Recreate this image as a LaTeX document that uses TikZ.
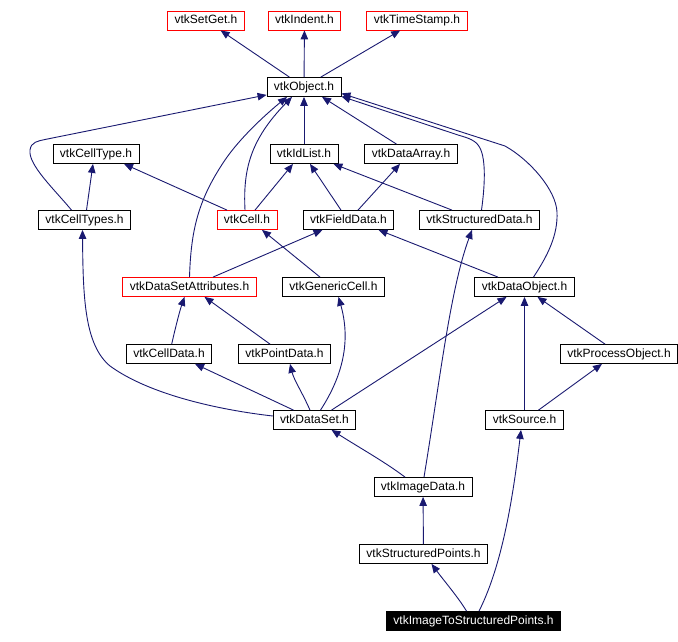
\documentclass[tikz,border=0pt]{standalone}
\usepackage{fontspec}
\setmainfont{Liberation Sans}
\usetikzlibrary{arrows.meta}
\definecolor{edgeblue}{RGB}{25,25,112}

\begin{document}
\begin{tikzpicture}[x=1pt,y=-1pt,
  file/.style={draw,line width=0.8pt,fill=white,minimum height=19pt,inner xsep=7pt,inner ysep=0pt,
    text height=9pt,text depth=2.5pt,font=\fontsize{12}{14}\selectfont},
  extfile/.style={file,draw=red},
  topfile/.style={file,fill=black,text=white},
  inc/.style={edgeblue,line width=0.9pt,-{Triangle[length=9pt,width=7.5pt]}}]
\useasboundingbox (0,0) rectangle (678,642);
\node[extfile] (setget) at (206,20.5) {vtkSetGet.h};
\node[extfile] (indent) at (304.5,20.5) {vtkIndent.h};
\node[extfile] (timestamp) at (417,20.5) {vtkTimeStamp.h};
\node[file] (object) at (304,87) {vtkObject.h};
\node[file] (celltype) at (96,154) {vtkCellType.h};
\node[file] (idlist) at (304,154) {vtkIdList.h};
\node[file] (dataarray) at (411,154) {vtkDataArray.h};
\node[file] (celltypes) at (84.5,220) {vtkCellTypes.h};
\node[extfile] (cell) at (247,220) {vtkCell.h};
\node[file] (fielddata) at (348.5,220) {vtkFieldData.h};
\node[file] (structdata) at (479.5,220) {vtkStructuredData.h};
\node[extfile] (dsattr) at (189.5,287) {vtkDataSetAttributes.h};
\node[file] (genericcell) at (333.5,287) {vtkGenericCell.h};
\node[file] (dataobject) at (524.5,287) {vtkDataObject.h};
\node[file] (celldata) at (169,354) {vtkCellData.h};
\node[file] (pointdata) at (284.5,354) {vtkPointData.h};
\node[file] (procobject) at (619,354) {vtkProcessObject.h};
\node[file] (dataset) at (314.5,420) {vtkDataSet.h};
\node[file] (source) at (524.5,420) {vtkSource.h};
\node[file] (imagedata) at (423,487) {vtkImageData.h};
\node[file] (structpoints) at (423.5,554) {vtkStructuredPoints.h};
\node[topfile] (img2sp) at (473.5,621) {vtkImageToStructuredPoints.h};

\draw[inc] (object) -- (setget);
\draw[inc] (object) -- (indent);
\draw[inc] (object) -- (timestamp);
\draw[inc] ([xshift=-13pt]celltypes.north) .. controls (55,190) and (28,165) .. (30,150)
  .. controls (31,142) and (38,141) .. (45,139.5) -- ([yshift=2pt]object.south west);
\draw[inc] ([xshift=2pt]celltypes.north) -- ([xshift=-3pt]celltype.south);
\draw[inc] ([xshift=-20pt]cell.north) -- ([xshift=28pt]celltype.south);
\draw[inc] ([xshift=-2pt]cell.north) .. controls (243,170) and (250,140) .. ([xshift=-12pt]object.south);
\draw[inc] (dsattr.north) .. controls (191,230) and (198,200) .. (225,160)
  .. controls (240,138) and (265,115) .. ([xshift=-17pt]object.south);
\draw[inc] ([xshift=8pt]cell.north) -- ([xshift=-11pt]idlist.south);
\draw[inc] ([xshift=-7.5pt]fielddata.north) -- ([xshift=6pt]idlist.south);
\draw[inc] ([xshift=-27.5pt]structdata.north) -- ([xshift=-5pt]idlist.south east);
\draw[inc] ([xshift=9.5pt]fielddata.north) -- ([xshift=-11pt]dataarray.south);
\draw[inc] ([xshift=-14.5pt]dataarray.north) -- ([xshift=18pt]object.south);
\draw[inc] (idlist) -- (object);
\draw[inc] ([xshift=2pt]structdata.north) .. controls (485,185) and (486,160) .. (480,148)
  .. controls (476,140) and (468,138) .. (458,135) -- ([yshift=0.5pt]object.south east);
\draw[inc] ([xshift=9pt]dataobject.north) .. controls (548,255) and (558,235) .. (557,212)
  .. controls (556,190) and (530,160) .. (505,146) -- ([yshift=3.5pt]object.south east);
\draw[inc] ([xshift=23.5pt]dsattr.north) -- ([xshift=-26pt]fielddata.south);
\draw[inc] ([xshift=-13.5pt]genericcell.north) -- ([xshift=15pt]cell.south);
\draw[inc] ([xshift=-26.5pt]dataobject.north) -- ([xshift=30pt]fielddata.south);
\draw[inc] ([xshift=1pt]imagedata.north) .. controls (440,380) and (450,290) .. ([xshift=-7.5pt]structdata.south);
\draw[inc] ([xshift=2.7pt]celldata.north) .. controls (176,325) and (180,310) .. ([xshift=-5pt]dsattr.south);
\draw[inc] ([xshift=-14.5pt]pointdata.north) -- ([xshift=15pt]dsattr.south);
\draw[inc] ([yshift=4pt]dataset.west) .. controls (220,410) and (150,395) .. (110,366)
  .. controls (85,345) and (83,300) .. ([xshift=-2pt]celltypes.south);
\draw[inc] ([xshift=-21pt]dataset.north) -- ([xshift=26pt]celldata.south);
\draw[inc] ([xshift=-4.5pt]dataset.north) .. controls (302,392) and (294,380) .. ([xshift=5.5pt]pointdata.south);
\draw[inc] ([xshift=6pt]dataset.north) .. controls (340,380) and (352,345) .. ([xshift=5pt]genericcell.south);
\draw[inc] ([xshift=17pt]dataset.north) -- ([xshift=-18pt]dataobject.south);
\draw[inc] (source) -- (dataobject);
\draw[inc] ([xshift=-14pt]procobject.north) -- ([xshift=13pt]dataobject.south);
\draw[inc] ([xshift=14pt]source.north) -- ([xshift=-17pt]procobject.south);
\draw[inc] ([xshift=-18pt]imagedata.north) .. controls (385,462) and (360,448) .. ([xshift=17pt]dataset.south);
\draw[inc] (structpoints) -- (imagedata);
\draw[inc] ([xshift=-7pt]img2sp.north) .. controls (458,597) and (445,582) .. ([xshift=8pt]structpoints.south);
\draw[inc] ([xshift=5.5pt]img2sp.north) .. controls (505,560) and (515,480) .. ([xshift=-3.5pt]source.south);
\end{tikzpicture}
\end{document}
